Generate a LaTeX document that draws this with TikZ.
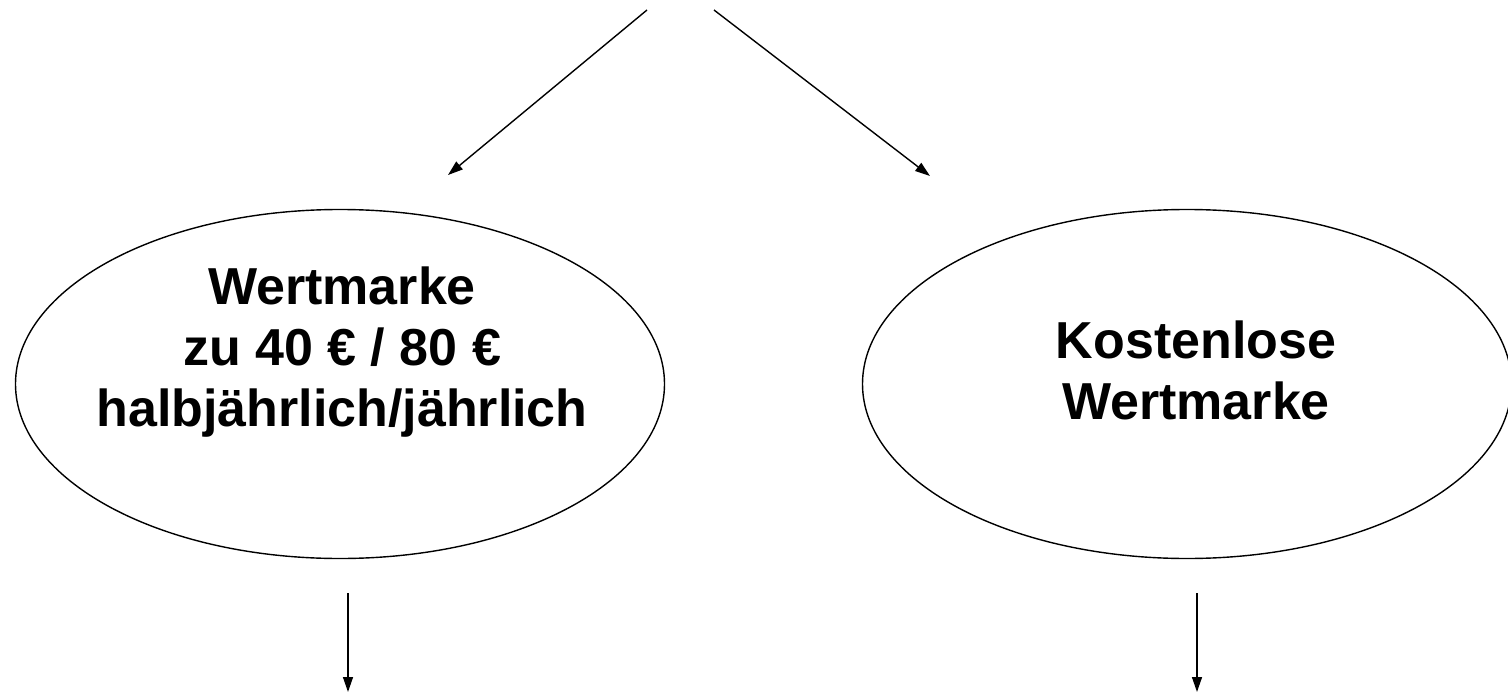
\documentclass[tikz,border=0pt]{standalone}
\usepackage{fontspec}
\setmainfont{Liberation Sans}
\usetikzlibrary{shapes.geometric,arrows.meta}
\begin{document}
\begin{tikzpicture}[x=1pt,y=-1pt,
  conn/.style={line width=1.4pt,-{Triangle[length=15pt,width=10pt]}},
  oval/.style={ellipse,draw,line width=1.4pt,minimum width=649pt,minimum height=349pt,inner sep=0pt},
  lbl/.style={align=center,font=\fontsize{52}{61}\selectfont\bfseries,inner sep=0pt}]
\useasboundingbox (0,0) rectangle (1508,693);
\node[oval] (e1) at (340,384) {};
\node[oval] (e2) at (1187,384) {};
\node[lbl] (t1) at (342,352) {Wertmarke\\zu 40 € / 80 €\\halbjährlich/jährlich};
\node[lbl] (t2) at (1196,370) {Kostenlose\\Wertmarke};
\coordinate (s1) at (647,10);
\coordinate (s2) at (714,10);
\coordinate (a1) at (448,175);
\coordinate (a2) at (930,176);
\coordinate (b1) at (348,593);
\coordinate (b2) at (348,692);
\coordinate (c1) at (1197,593);
\coordinate (c2) at (1197,692);
\draw[conn] (s1) -- (a1);
\draw[conn] (s2) -- (a2);
\draw[conn] (b1) -- (b2);
\draw[conn] (c1) -- (c2);
\end{tikzpicture}
\end{document}
